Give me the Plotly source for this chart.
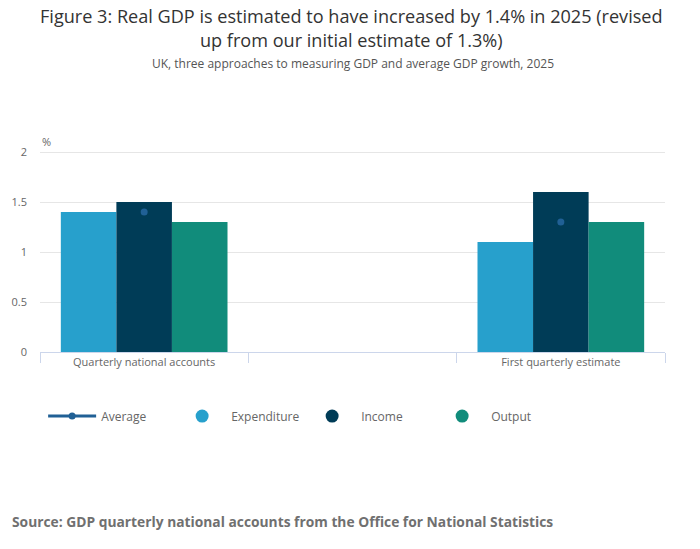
import plotly.graph_objects as go

# categories (middle slot is an empty spacer, as in the source chart)
categories = ["Quarterly national accounts", " ", "First quarterly estimate"]
expenditure = [1.4, None, 1.1]
income = [1.5, None, 1.6]
output = [1.3, None, 1.3]
average = [1.4, None, 1.3]

y_ticks = [0, 0.5, 1, 1.5, 2]
y_tick_labels = ["0", "0.5", "1", "1.5", "2"]

FONT = "Open Sans"
GREY = "#707070"

bars = [
    ("Expenditure", expenditure, "#27a0cc"),
    ("Income", income, "#003c57"),
    ("Output", output, "#118c7b"),
]

fig = go.Figure()

fig.add_trace(go.Scatter(
    x=categories, y=average, name="Average", mode="lines+markers",
    line=dict(color="#206095", width=3), marker=dict(size=7, color="#206095"),
    connectgaps=False, hoverinfo="skip",
))

for name, vals, colour in bars:
    fig.add_trace(go.Bar(
        x=categories, y=vals, name=name, marker=dict(color=colour, line_width=0),
        showlegend=False, legendgroup=name,
    ))

# legend-only entries so the key shows round markers, like the original
for name, vals, colour in bars:
    fig.add_trace(go.Scatter(
        x=[None], y=[None], name=name, mode="markers", legendgroup=name,
        marker=dict(size=13, color=colour),
    ))

fig.update_layout(
    width=700, height=549,
    paper_bgcolor="white", plot_bgcolor="white",
    font=dict(family=FONT, color=GREY, size=11),
    margin=dict(l=40, r=35, t=150, b=197),
    barmode="group", bargap=0.2, bargroupgap=0,
    xaxis=dict(
        type="category", tickson="boundaries", ticks="outside", ticklen=10,
        tickcolor="#ccd6eb", showline=True, linecolor="#ccd6eb", showgrid=False,
        tickfont=dict(size=11, color="#666666"), fixedrange=True,
    ),
    yaxis=dict(
        range=[0, 2.02], tickvals=y_ticks, ticktext=y_tick_labels,
        gridcolor="#e6e6e6", zeroline=False, showline=False,
        tickfont=dict(size=11, color="#666666"), ticklabelstandoff=12,
        fixedrange=True,
    ),
    legend=dict(
        orientation="h", x=0.005, xanchor="left", y=-0.317, yanchor="middle",
        itemwidth=48, entrywidth=67, entrywidthmode="pixels",
        font=dict(size=12, color="#666666"),
    ),
    showlegend=True,
    annotations=[
        dict(text="Figure 3: Real GDP is estimated to have increased by 1.4% in 2025 (revised<br>up from our initial estimate of 1.3%)",
             xref="paper", yref="paper", x=0.498, y=1.606, xanchor="center", yanchor="middle",
             showarrow=False, font=dict(size=18.1, color="#333333")),
        dict(text="UK, three approaches to measuring GDP and average GDP growth, 2025",
             xref="paper", yref="paper", x=0.5, y=1.426, xanchor="center", yanchor="middle",
             showarrow=False, font=dict(size=12, color="#555555")),
        dict(text="%", xref="paper", yref="paper", x=0, y=1.04, xanchor="left",
             yanchor="middle", showarrow=False, font=dict(size=11, color="#666666")),
        dict(text="<b>Source: GDP quarterly national accounts from the Office for National Statistics</b>",
             xref="paper", yref="paper", x=-0.048, y=-0.837, xanchor="left", yanchor="middle",
             showarrow=False, font=dict(size=13.8, color=GREY)),
    ],
)

fig.write_html("out.html", config={"displayModeBar": False},
               post_script="document.body.style.margin='0';")
